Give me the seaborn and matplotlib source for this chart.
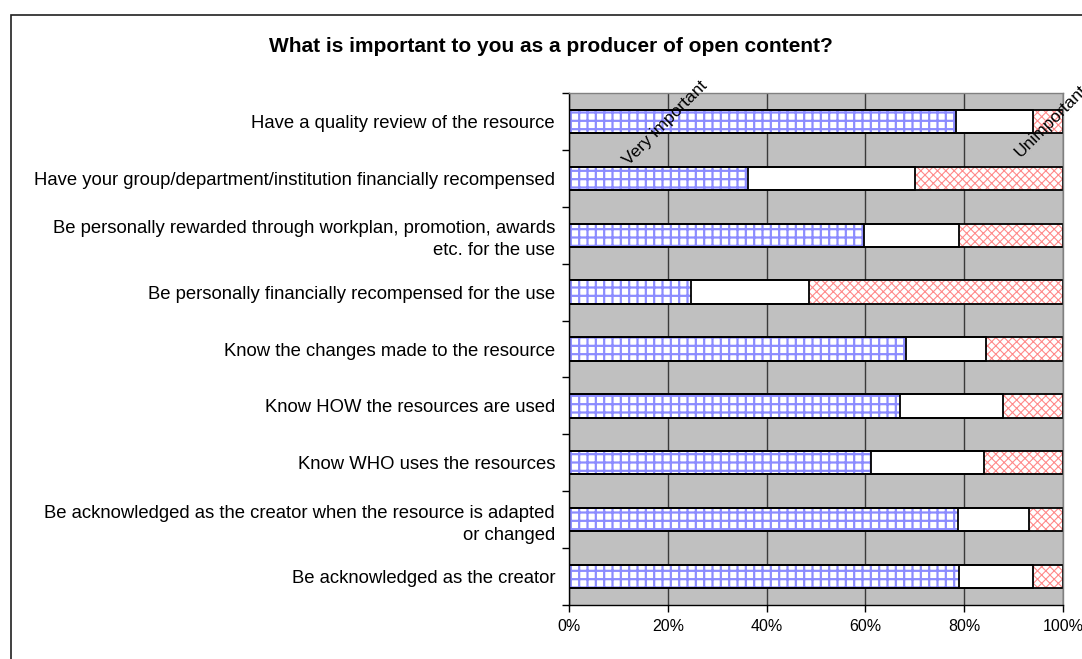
import numpy as np
import pandas as pd
import matplotlib
matplotlib.use("Agg")
import matplotlib.pyplot as plt
from matplotlib.patches import Rectangle
from matplotlib.ticker import FixedLocator, FuncFormatter
import seaborn as sns

# Survey statements, top to bottom
statements = [
    "Have a quality review of the resource",
    "Have your group/department/institution financially recompensed",
    "Be personally rewarded through workplan, promotion, awards\netc. for the use",
    "Be personally financially recompensed for the use",
    "Know the changes made to the resource",
    "Know HOW the resources are used",
    "Know WHO uses the resources",
    "Be acknowledged as the creator when the resource is adapted\nor changed",
    "Be acknowledged as the creator",
]

# Share of answers (%) per statement
very_important = [78.3, 36.2, 59.7, 24.6, 68.2, 67.0, 61.1, 78.7, 79.0]
in_between = [15.6, 33.8, 19.3, 24.0, 16.2, 20.9, 22.9, 14.4, 15.0]
unimportant = [6.1, 30.0, 21.0, 51.4, 15.6, 12.1, 16.0, 6.9, 6.0]

x_ticks = [0, 20, 40, 60, 80, 100]
title = "What is important to you as a producer of open content?"
scale_low = "Very important"
scale_high = "Unimportant"

sns.set_theme(style="white")
plt.rcParams["font.family"] = ["Liberation Sans", "DejaVu Sans"]
plt.rcParams["hatch.linewidth"] = 1.5

df = pd.DataFrame({
    "statement": statements,
    "very": very_important,
    "mid": in_between,
    "un": unimportant,
})
df["end_very"] = df["very"]
df["end_mid"] = df["very"] + df["mid"]
df["end_all"] = df["end_mid"] + df["un"]

W, H = 1082, 659
fig = plt.figure(figsize=(W / 100, H / 100), dpi=100)
ax = fig.add_axes([569 / W, 1 - 605 / H, 494 / W, 512 / H])
ax.set_facecolor("#C0C0C0")

BAR_W = 0.41

# Stacked segments: draw cumulative ends from the right, each layer covering the previous
layers = [
    ("end_all", "#FF8A8A", "xxxx", 0.8),
    ("end_mid", None, None, 0.0),
    ("end_very", "#8C8CFF", "++", 1.6),
]
for col, hcolor, hatch, hlw in layers:
    n0 = len(ax.patches)
    sns.barplot(data=df, x=col, y="statement", orient="h", width=BAR_W,
                color="white", saturation=1, errorbar=None, linewidth=0, ax=ax)
    for p in ax.patches[n0:]:
        p.set_facecolor("white")
        p.set_linewidth(0)
        if hatch:
            p.set_edgecolor(hcolor)
            p.set_hatch(hatch)
            if hasattr(p, "set_hatch_linewidth"):
                p.set_hatch_linewidth(hlw)

# Black outlines of every segment
for col in ["end_all", "end_mid", "end_very"]:
    n0 = len(ax.patches)
    sns.barplot(data=df, x=col, y="statement", orient="h", width=BAR_W,
                color="black", saturation=1, errorbar=None, ax=ax)
    for p in ax.patches[n0:]:
        p.set_facecolor("none")
        p.set_edgecolor("black")
        p.set_linewidth(1.3)

ax.set_xlabel("")
ax.set_ylabel("")
ax.set_xlim(0, 100)
ax.set_ylim(len(statements) - 0.5, -0.5)

ax.xaxis.set_major_locator(FixedLocator(x_ticks))
ax.xaxis.set_major_formatter(FuncFormatter(lambda v, _: f"{v:.0f}%"))
ax.set_axisbelow(True)
ax.xaxis.grid(True, color="#3a3a3a", linewidth=1.0)
ax.yaxis.grid(False)

ax.yaxis.set_minor_locator(FixedLocator(np.arange(-0.5, len(statements), 1.0)))
ax.tick_params(axis="y", which="minor", left=True, length=5, width=1.0,
               direction="out", color="black")
ax.tick_params(axis="y", which="major", left=False, length=0, pad=10,
               labelsize=13.3, labelcolor="black")
ax.tick_params(axis="x", which="major", bottom=True, length=5, width=1.0,
               direction="out", color="black", pad=5, labelsize=11.5,
               labelcolor="black")
for lbl in ax.get_yticklabels():
    lbl.set_linespacing(1.4)

for side in ["left", "bottom"]:
    ax.spines[side].set_color("black")
    ax.spines[side].set_linewidth(1.0)
for side in ["top", "right"]:
    ax.spines[side].set_color("#808080")
    ax.spines[side].set_linewidth(1.0)

# Scale end labels
ax.text(19.5, 0.03, scale_low, rotation=45, ha="center", va="center",
        fontsize=12.5, color="black")
ax.text(97.6, 0.0, scale_high, rotation=45, ha="center", va="center",
        fontsize=12.5, color="black", clip_on=False)

fig.text(551 / W, 1 - 47 / H, title, ha="center", va="center",
         fontsize=15, fontweight="bold", color="black")

# Chart area frame
fig.add_artist(Rectangle((10.5 / W, -0.1), 1.2, 1 - 14.5 / H + 0.1,
                         transform=fig.transFigure, fill=False,
                         edgecolor="#202020", linewidth=1.2))

fig.savefig("out.png", dpi=100)
